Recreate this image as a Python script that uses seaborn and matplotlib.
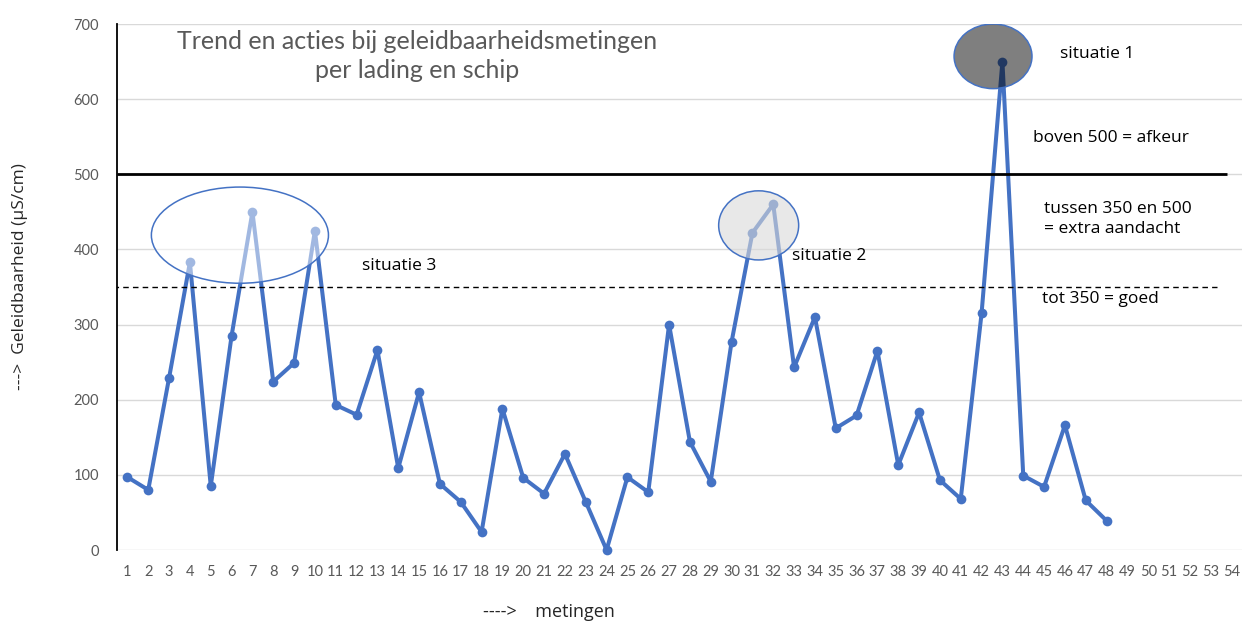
import matplotlib.pyplot as plt
import matplotlib.patches as mpatches
import seaborn as sns

# metingen en geleidbaarheid (µS/cm)
metingen = list(range(1, 49))
waarden = [97, 80, 229, 383, 85, 285, 450, 224, 249, 425,
           193, 180, 266, 109, 210, 88, 64, 24, 188, 96,
           75, 128, 64, 0, 97, 77, 300, 144, 91, 277,
           422, 460, 243, 310, 162, 179, 265, 113, 183, 93,
           68, 315, 650, 99, 84, 166, 66, 39]
x_labels = [str(i) for i in range(1, 55)]
y_ticks = [0, 100, 200, 300, 400, 500, 600, 700]
grens_afkeur = 500
grens_goed = 350

sns.set_style("white")
plt.rcParams['font.family'] = ['Lato', 'DejaVu Sans']

fig = plt.figure(figsize=(12.42, 6.24), dpi=100)
ax = fig.add_axes([117 / 1242, 74 / 624, 1125 / 1242, 526 / 624])

sns.lineplot(x=metingen, y=waarden, marker='o', color='#4472C4', linewidth=2.9,
             markersize=7, markeredgewidth=0, ax=ax, zorder=2, clip_on=False)

# grenswaarden
ax.hlines(grens_afkeur, 0.5, 53.8, colors='black', linewidth=2, zorder=2.5)
ax.hlines(grens_goed, 0.3, 53.3, colors='black', linewidth=1, linestyles=(0, (4, 3)), zorder=2.5)

# situatie-ellipsen
ax.add_patch(mpatches.Ellipse((6.4, 419), 8.5, 128, facecolor=(1, 1, 1, 0.5),
                              edgecolor='#4472C4', linewidth=1.1, zorder=3))
ax.add_patch(mpatches.Ellipse((31.3, 432), 3.84, 92, facecolor=(0.85, 0.85, 0.85, 0.6),
                              edgecolor='#4472C4', linewidth=1.1, zorder=3))
ax.add_patch(mpatches.Ellipse((42.55, 657), 3.74, 86, facecolor=(0, 0, 0, 0.5),
                              edgecolor='#4472C4', linewidth=1.1, zorder=3))

ax.set_xlim(0.5, 54.5)
ax.set_ylim(0, 700)
ax.set_xticks(range(1, 55))
ax.set_xticklabels(x_labels)
ax.set_yticks(y_ticks)
ax.yaxis.grid(True, color='#D9D9D9', linewidth=1)
ax.set_axisbelow(True)
for s in ['top', 'right', 'bottom']:
    ax.spines[s].set_visible(False)
ax.spines['left'].set_color('black')
ax.spines['left'].set_linewidth(1.3)
ax.tick_params(axis='y', direction='in', length=5, width=1.2, color='black',
               pad=13, labelsize=10.5, labelcolor='#595959')
ax.tick_params(axis='x', length=0, pad=11, labelsize=10.5, labelcolor='#595959')

# titel
ax.text(14.9, 657, "Trend en acties bij geleidbaarheidsmetingen\nper lading en schip",
        ha='center', va='center', fontsize=18, color='#595959', linespacing=1.3, zorder=4)

# toelichting
tekst = dict(fontsize=12.5, color='black', family=['Open Sans', 'DejaVu Sans'], va='center', zorder=4)
ax.text(12.27, 378, "situatie 3", **tekst)
ax.text(32.9, 391, "situatie 2", **tekst)
ax.text(45.75, 660, "situatie 1", **tekst)
ax.text(44.45, 548, "boven 500 = afkeur", **tekst)
ax.text(45.0, 441, "tussen 350 en 500\n= extra aandacht", linespacing=1.35, **tekst)
ax.text(44.9, 334, "tot 350 = goed", **tekst)

fig.text(20 / 1242, (624 - 277) / 624, "--->  Geleidbaarheid (µS/cm)", rotation=90,
         ha='center', va='center', fontsize=12.5, color='#262626',
         family=['Open Sans', 'DejaVu Sans'])
fig.text(549 / 1242, 12 / 624, "---->    metingen", ha='center', va='center',
         fontsize=13, color='#262626', family=['Open Sans', 'DejaVu Sans'])

fig.savefig('out.png', dpi=100)
